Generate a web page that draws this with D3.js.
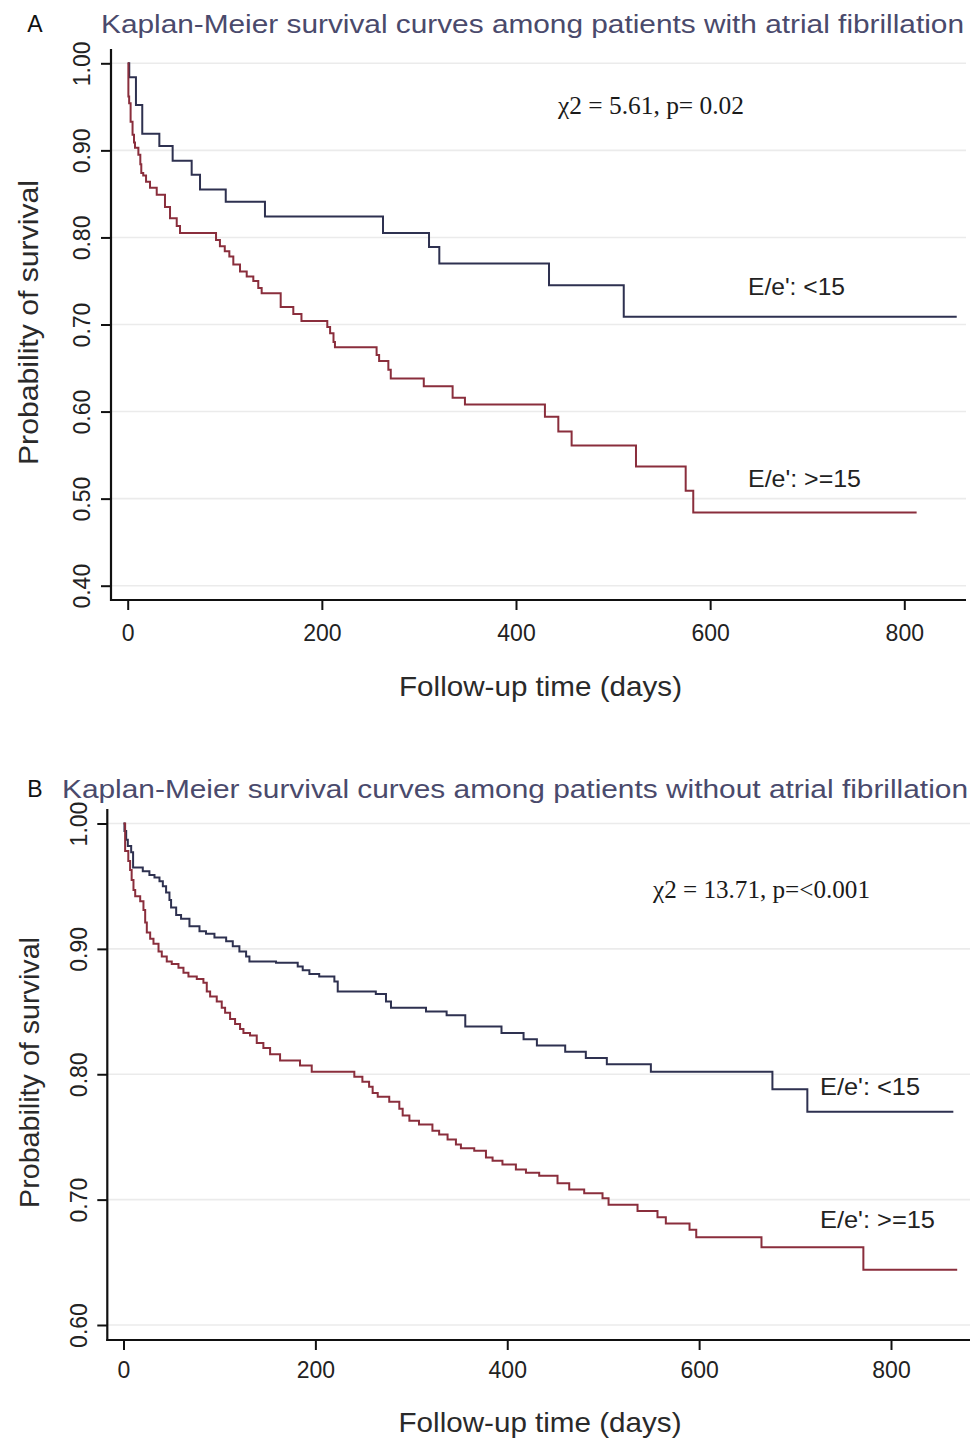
<!DOCTYPE html>
<html>
<head>
<meta charset="utf-8">
<script src="https://cdn.jsdelivr.net/npm/d3@7"></script>
<style>
  html, body { margin: 0; padding: 0; background: #fff; }
  svg { display: block; }
  text { font-family: "Liberation Sans", Arial, Helvetica, sans-serif; }
</style>
</head>
<body>
<svg id="chart" width="970" height="1438"></svg>
<script>
// ---------------- DATA ----------------
const xTickValues = [0, 200, 400, 600, 800];
const yTickValuesA = [0.4, 0.5, 0.6, 0.7, 0.8, 0.9, 1.0];
const yTickValuesB = [0.6, 0.7, 0.8, 0.9, 1.0];

const titleA = "Kaplan-Meier survival curves among patients with atrial fibrillation";
const titleB = "Kaplan-Meier survival curves among patients without atrial fibrillation";
const xAxisTitle = "Follow-up time (days)";
const yAxisTitle = "Probability of survival";
const statA = "χ2 = 5.61, p= 0.02";
const statB = "χ2 = 13.71, p=<0.001";
const seriesNames = ["E/e': <15", "E/e': >=15"];

// Panel A (with AF), E/e' < 15
const afLowTime = [0, 1.6, 8.5, 15, 32.6, 46.3, 65.9, 74.5, 101, 141.4, 263, 310.4, 321, 434, 511, 854];
const afLowSurv = [1, 0.984, 0.952, 0.919, 0.905, 0.888, 0.872, 0.855, 0.841, 0.824, 0.805, 0.789, 0.770, 0.745, 0.709, 0.709];

// Panel A (with AF), E/e' >= 15
const afHighTime = [0, 0.7, 1.5, 3, 5, 6.5, 7.5, 11, 13, 14, 16, 18.9, 23, 29.9, 38.4, 43.6, 50.5, 53.9,
  91, 95, 100, 104.7, 108.8, 115.7, 122.6, 129.4, 134.5, 138, 157.6, 170.6, 179, 205.6, 208.5, 212, 213.5,
  256.4, 259, 268.5, 271, 305, 334.7, 347.4, 429.8, 443.6, 457.3, 523.6, 574.8, 582.6, 812.7];
const afHighSurv = [1, 0.962, 0.954, 0.933, 0.918, 0.909, 0.903, 0.895, 0.884, 0.874, 0.871, 0.864, 0.857, 0.849, 0.835, 0.822, 0.813, 0.805,
  0.797, 0.790, 0.784, 0.778, 0.769, 0.761, 0.755, 0.750, 0.742, 0.736, 0.720, 0.712, 0.704, 0.697, 0.690, 0.680, 0.674,
  0.665, 0.658, 0.648, 0.638, 0.629, 0.616, 0.608, 0.594, 0.577, 0.561, 0.537, 0.509, 0.484, 0.484];

// Panel B (without AF), E/e' < 15
const noAfLowTime = [0, 1, 2.8, 4.5, 8, 10, 20.1, 27, 32.3, 37.5, 41, 44.4, 47.9, 49.6, 54.9, 60, 68.75, 79.2, 86, 94.8,
  107, 113.9, 120.8, 127.8, 131.25, 159, 181.6, 186.8, 193.75, 204, 219.8, 223.3, 263, 273.6, 278.8, 315.3, 336.8,
  356.25, 394, 417, 430.9, 460.4, 481.9, 503.8, 549.7, 676.4, 712.8, 865];
const noAfLowSurv = [1, 0.994, 0.987, 0.982, 0.977, 0.965, 0.962, 0.959, 0.957, 0.954, 0.950, 0.945, 0.939, 0.933, 0.927, 0.924, 0.918, 0.914, 0.912, 0.909,
  0.906, 0.902, 0.898, 0.894, 0.890, 0.889, 0.886, 0.883, 0.880, 0.878, 0.874, 0.866, 0.864, 0.858, 0.853, 0.850, 0.847,
  0.838, 0.833, 0.828, 0.823, 0.818, 0.813, 0.808, 0.802, 0.788, 0.770, 0.770];

// Panel B (without AF), E/e' >= 15
const noAfHighTime = [0, 1.7, 5, 6.9, 8.5, 10.4, 12.2, 17.4, 20.8, 22.6, 24.3, 27.8, 31.25, 36.5, 39.9, 45.1, 50.3, 57.3, 62.5, 67.7,
  76.4, 83.3, 86.8, 90.3, 97.2, 102.4, 105.9, 111.1, 116.3, 121.5, 125, 131.9, 138.9, 145.8, 152.8, 163.2, 184, 196.2,
  240.6, 249, 256, 259.7, 265, 277, 287.5, 291, 298, 308, 322, 329, 337.8, 346.5, 351.7, 365.6, 377.8, 384.7, 395, 409,
  419.5, 433.3, 452.4, 464.6, 480.2, 499.3, 505.6, 535.8, 556.6, 565.3, 590, 597, 665, 771.2, 869];
const noAfHighSurv = [1, 0.978, 0.970, 0.963, 0.955, 0.947, 0.942, 0.938, 0.931, 0.921, 0.913, 0.908, 0.904, 0.898, 0.894, 0.890, 0.888, 0.885, 0.881, 0.878,
  0.876, 0.873, 0.866, 0.862, 0.858, 0.853, 0.849, 0.844, 0.840, 0.836, 0.833, 0.831, 0.825, 0.821, 0.816, 0.811, 0.807, 0.802,
  0.798, 0.794, 0.790, 0.785, 0.782, 0.778, 0.7725, 0.767, 0.763, 0.760, 0.755, 0.752, 0.748, 0.744, 0.741, 0.739, 0.7335, 0.731, 0.728, 0.724,
  0.7215, 0.719, 0.713, 0.708, 0.705, 0.701, 0.696, 0.691, 0.686, 0.681, 0.676, 0.670, 0.662, 0.644, 0.644];

// ---------------- DRAW ----------------
const svg = d3.select("#chart");
const BLUE = "#2e3150";
const RED = "#8a2e3c";
const zip = (t, s) => t.map((d, i) => ({ t: d, s: s[i] }));

function panel(cfg) {
  const g = svg.append("g");
  const x = d3.scaleLinear().domain([0, 800]).range(cfg.xRange);
  const y = d3.scaleLinear().domain(cfg.yDomain).range(cfg.yRange);

  // gridlines
  g.append("g").selectAll("line").data(cfg.yTicks).join("line")
    .attr("x1", cfg.axisX).attr("x2", cfg.rightX)
    .attr("y1", d => y(d)).attr("y2", d => y(d))
    .attr("stroke", "#ebebeb").attr("stroke-width", 1.6);

  // y axis ticks
  const ya = g.append("g").attr("transform", `translate(${cfg.axisX},0)`)
    .call(d3.axisLeft(y).tickValues(cfg.yTicks).tickSize(10).tickFormat(d3.format(".2f")));
  ya.select(".domain").remove();
  ya.selectAll(".tick line").attr("stroke", "#111").attr("stroke-width", 2);
  ya.selectAll(".tick text")
    .attr("transform", "rotate(-90)")
    .attr("x", 0).attr("y", cfg.yLabelBaseline - cfg.axisX).attr("dy", 0)
    .attr("text-anchor", "middle")
    .attr("fill", "#222")
    .style("font-size", "23px").style("font-family", '"Liberation Sans", Arial, sans-serif');

  // x axis ticks
  const xa = g.append("g").attr("transform", `translate(0,${cfg.axisY})`)
    .call(d3.axisBottom(x).tickValues(xTickValues).tickSize(10).tickFormat(d3.format("d")));
  xa.select(".domain").remove();
  xa.selectAll(".tick line").attr("stroke", "#111").attr("stroke-width", 2);
  xa.selectAll(".tick text")
    .attr("y", cfg.xLabelBaseline - cfg.axisY).attr("dy", 0)
    .attr("fill", "#222")
    .style("font-size", "23px").style("font-family", '"Liberation Sans", Arial, sans-serif');

  // axis lines
  g.append("line").attr("x1", cfg.axisX).attr("x2", cfg.axisX)
    .attr("y1", cfg.axisTop).attr("y2", cfg.axisY + 1)
    .attr("stroke", "#111").attr("stroke-width", 2.2);
  g.append("line").attr("x1", cfg.axisX - 1).attr("x2", cfg.rightX)
    .attr("y1", cfg.axisY).attr("y2", cfg.axisY)
    .attr("stroke", "#111").attr("stroke-width", 2.2);

  // curves
  const line = d3.line().x(d => x(d.t)).y(d => y(d.s)).curve(d3.curveStepAfter);
  g.append("path").datum(zip(cfg.lowT, cfg.lowS)).attr("d", line)
    .attr("fill", "none").attr("stroke", BLUE).attr("stroke-width", 2);
  g.append("path").datum(zip(cfg.highT, cfg.highS)).attr("d", line)
    .attr("fill", "none").attr("stroke", RED).attr("stroke-width", 2);

  // panel letter
  g.append("text").attr("x", 35).attr("y", cfg.titleBaseline - 1).attr("text-anchor", "middle")
    .style("font-size", "23px").attr("fill", "#111").text(cfg.letter);
  // title
  g.append("text").attr("x", cfg.titleX).attr("y", cfg.titleBaseline)
    .attr("textLength", cfg.titleLen).attr("lengthAdjust", "spacingAndGlyphs")
    .style("font-size", "25px").attr("fill", "#4a4a6c").text(cfg.title);

  // y axis title
  g.append("text")
    .attr("transform", `translate(${cfg.yTitleBaseline},${cfg.yTitleCenter}) rotate(-90)`)
    .attr("text-anchor", "middle")
    .attr("textLength", cfg.yTitleLen).attr("lengthAdjust", "spacingAndGlyphs")
    .style("font-size", "28px").attr("fill", "#2a2a2a").text(yAxisTitle);
  // x axis title
  g.append("text").attr("x", cfg.xTitleCenter).attr("y", cfg.xTitleBaseline)
    .attr("text-anchor", "middle")
    .attr("textLength", 283).attr("lengthAdjust", "spacingAndGlyphs")
    .style("font-size", "28px").attr("fill", "#2a2a2a").text(xAxisTitle);

  // statistic
  g.append("text").attr("x", cfg.statX).attr("y", cfg.statBaseline)
    .attr("textLength", cfg.statLen).attr("lengthAdjust", "spacingAndGlyphs")
    .style("font-family", '"Liberation Serif", "Times New Roman", serif')
    .style("font-size", "25px").attr("fill", "#1a1a1a").text(cfg.stat);

  // series labels
  g.append("text").attr("x", cfg.lblX).attr("y", cfg.lblLowBaseline)
    .attr("textLength", cfg.lblLowLen).attr("lengthAdjust", "spacingAndGlyphs")
    .style("font-size", "24px").attr("fill", "#222").text(seriesNames[0]);
  g.append("text").attr("x", cfg.lblX).attr("y", cfg.lblHighBaseline)
    .attr("textLength", cfg.lblHighLen).attr("lengthAdjust", "spacingAndGlyphs")
    .style("font-size", "24px").attr("fill", "#222").text(seriesNames[1]);
}

panel({
  letter: "A", title: titleA, titleX: 101, titleBaseline: 33, titleLen: 863,
  xRange: [127.7, 904.3], yDomain: [0.4, 1.0], yRange: [585.7, 63.3], yTicks: yTickValuesA,
  axisX: 111, axisY: 600, axisTop: 49, rightX: 966,
  yLabelBaseline: 90, xLabelBaseline: 641,
  yTitleBaseline: 38, yTitleCenter: 322.5, yTitleLen: 285,
  xTitleCenter: 540.5, xTitleBaseline: 696,
  stat: statA, statX: 558, statBaseline: 114, statLen: 186,
  lblX: 748, lblLowBaseline: 295, lblHighBaseline: 487, lblLowLen: 97, lblHighLen: 113,
  lowT: afLowTime, lowS: afLowSurv, highT: afHighTime, highS: afHighSurv
});

panel({
  letter: "B", title: titleB, titleX: 62, titleBaseline: 798, titleLen: 906,
  xRange: [123.5, 891], yDomain: [0.6, 1.0], yRange: [1325, 823.5], yTicks: yTickValuesB,
  axisX: 107.3, axisY: 1340, axisTop: 809, rightX: 970,
  yLabelBaseline: 87, xLabelBaseline: 1378,
  yTitleBaseline: 39, yTitleCenter: 1072.5, yTitleLen: 271,
  xTitleCenter: 540, xTitleBaseline: 1432,
  stat: statB, statX: 653, statBaseline: 898, statLen: 217,
  lblX: 820, lblLowBaseline: 1095, lblHighBaseline: 1228, lblLowLen: 100, lblHighLen: 115,
  lowT: noAfLowTime, lowS: noAfLowSurv, highT: noAfHighTime, highS: noAfHighSurv
});
</script>
</body>
</html>
